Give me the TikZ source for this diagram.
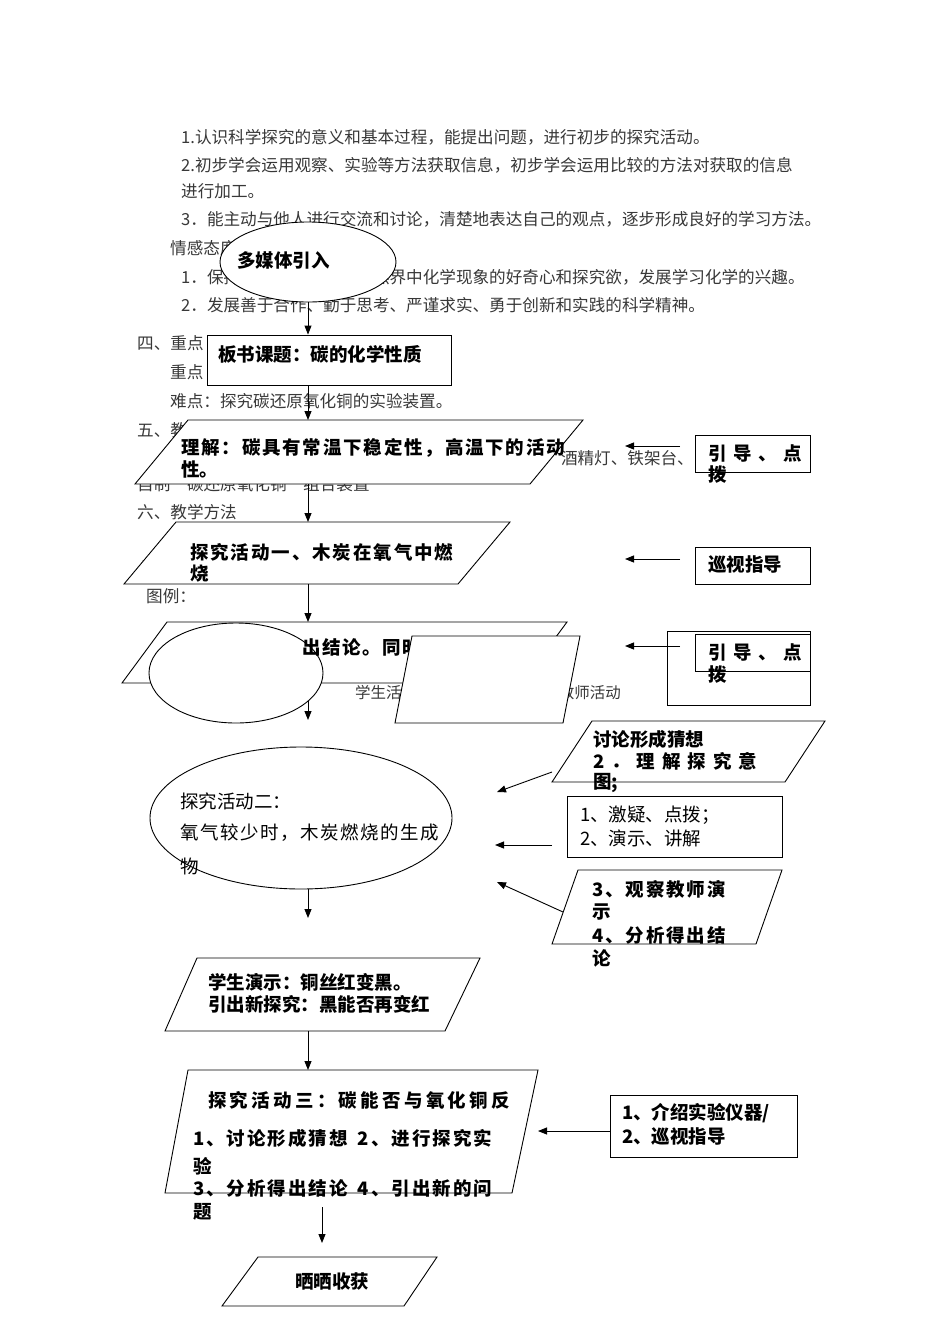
\documentclass[tikz,border=0pt]{standalone}
\usepackage{fontspec}
\setmainfont{Noto Sans CJK SC}
\usetikzlibrary{arrows.meta,shapes.geometric}
\makeatletter
\newcommand\lsp[2]{\@tfor\lsp@c:=#2\do{\lsp@c\hspace{#1}}\unskip}
\makeatother
\begin{document}
\begin{tikzpicture}[x=1pt,y=-1pt,
  bg/.style={anchor=west,inner sep=0pt,text=black!78,font=\fontsize{16.6}{20}\selectfont},
  tb/.style={anchor=west,inner sep=0pt,font=\fontsize{18.5}{22}\selectfont\bfseries},
  tr/.style={anchor=west,inner sep=0pt,font=\fontsize{18.5}{22}\selectfont},
  shp/.style={draw,line width=0.9pt,fill=white},
  rbox/.style={shp,rectangle,inner sep=0pt},
  arr/.style={draw,line width=0.9pt,-{Triangle[length=9pt,width=7pt]}}]
\useasboundingbox[fill=white] (0,0) rectangle (950,1344);

% ---------- background document text ----------
\node[bg] (b1) at (181,137) {1.认识科学探究的意义和基本过程，能提出问题，进行初步的探究活动。};
\node[bg] (b2) at (181,165) {2.初步学会运用观察、实验等方法获取信息，初步学会运用比较的方法对获取的信息};
\node[bg] (b3) at (181,191) {进行加工。};
\node[bg] (b4) at (181,219) {3．能主动与他人进行交流和讨论，清楚地表达自己的观点，逐步形成良好的学习方法。};
\node[bg] (b5) at (170,248) {情感态度};
\node[bg] (b6) at (181,277) {1．保持和增强对生活和自然界中化学现象的好奇心和探究欲，发展学习化学的兴趣。};
\node[bg] (b7) at (181,305) {2．发展善于合作、勤于思考、严谨求实、勇于创新和实践的科学精神。};
\node[bg] (b8) at (137,343) {四、重点};
\node[bg] (b9) at (170,372) {重点};
\node[bg] (b10) at (170,401) {难点：探究碳还原氧化铜的实验装置。};
\node[bg] (b11) at (137,430) {五、教学};
\node[bg,anchor=east] (b12) at (694,458) {酒精灯、铁架台、};
\node[bg] (b13) at (137,484) {自制“碳还原氧化铜”组合装置};
\node[bg] (b14) at (137,512) {六、教学方法};
\node[bg] (b16) at (137,568) {七、};
\node[bg] (b17) at (146,596) {图例：};
\node[bg,font=\fontsize{15.5}{18}\selectfont] (b18) at (355,693) {学生活动};
\node[bg,anchor=east,font=\fontsize{15.5}{18}\selectfont] (b19) at (621,693) {教师活动};

% ---------- coordinates of the parallelograms ----------
\coordinate (p1n) at (308,420); \coordinate (p1s) at (308,484);
\coordinate (p2n) at (308,522); \coordinate (p2s) at (308,584);
\coordinate (p3n) at (308,622); \coordinate (p3s) at (308,683);
\coordinate (p3e) at (308,720);
\coordinate (p5n) at (308,958); \coordinate (p5s) at (308,1031);
\coordinate (p6n) at (308,1070); \coordinate (p6s) at (322,1207);
\coordinate (p7n) at (322,1243);
\coordinate (e2e) at (308,918);

% ---------- multimedia ellipse ----------
\node[shp,ellipse,minimum width=176pt,minimum height=80pt,inner sep=0pt] (e1) at (308,262) {};
\node[tb] (e1t) at (237,260) {多媒体引入};

% ---------- title box ----------
\node[rbox,minimum width=244pt,minimum height=50pt] (box1) at (329,360) {};
\draw[arr] (e1.south) -- (e1.south |- box1.north);
\node[tb] (box1t) at (218,354) {板书课题：碳的化学性质};
\draw[arr] (e1.south |- box1.south) -- (p1n);

% ---------- understanding ----------
\draw[shp] (188,420) -- (583,420) -- (530,484) -- (135,484) -- cycle;
\node[tb] (p1a) at (181,448) {\lsp{1.8pt}{理解：碳具有常温下稳定性，高温下的活动}};
\node[tb] (p1b) at (181,469) {性。};
\draw[arr] (p1s) -- (p2n);

% ---------- activity one ----------
\draw[shp] (176,522) -- (510,522) -- (458,584) -- (124,584) -- cycle;
\node[tb] (p2a) at (190,552) {\lsp{1.9pt}{探究活动一、木炭在氧气中燃}};
\node[tb] (p2b) at (190,574) {烧};
\draw[arr] (p2s) -- (p3n);

% ---------- conclusion + legend ----------
\draw[shp] (167,622) -- (567,622) -- (522,683) -- (122,683) -- cycle;
\draw[arr] (p3s) -- (p3e);
\node[shp,ellipse,minimum width=174pt,minimum height=100pt,inner sep=0pt] (leg1) at (236,673) {};
\node[tb] (p3t) at (302,647) {\lsp{1.5pt}{出结论。同时}};
\draw[shp] (412,636) -- (580,636) -- (563,723) -- (395,723) -- cycle;

% ---------- right column, upper ----------
\node[rbox,minimum width=115pt,minimum height=37pt] (r1) at (752.5,453.5) {};
\node[tb] (r1a) at (708,453) {\lsp{6.5pt}{引导、点}};
\node[tb] (r1b) at (708,475) {拨};
\coordinate (a1s) at (680,446); \coordinate (a1e) at (625,446);
\draw[arr] (a1s) -- (a1e);

\node[rbox,minimum width=115pt,minimum height=37pt] (r2) at (752.5,565.5) {};
\node[tb] (r2t) at (708,565) {巡视指导};
\coordinate (a2s) at (680,559); \coordinate (a2e) at (625,559);
\draw[arr] (a2s) -- (a2e);

\node[rbox,minimum width=143pt,minimum height=74pt] (r3) at (738.5,668) {};
\node[rbox,minimum width=115pt,minimum height=37pt] (r4) at (752.5,652.5) {};
\node[tb] (r4a) at (708,652) {\lsp{6.5pt}{引导、点}};
\node[tb] (r4b) at (708,675) {拨};
\coordinate (a3s) at (680,646); \coordinate (a3e) at (625,646);
\draw[arr] (a3s) -- (a3e);

% ---------- activity two ----------
\node[shp,ellipse,minimum width=302pt,minimum height=142pt,inner sep=0pt] (e2) at (301,818) {};
\node[tr] (e2a) at (180,801) {探究活动二：};
\node[tr] (e2b) at (180,833) {\lsp{1.5pt}{氧气较少时，木炭燃烧的生成}};
\node[tr] (e2c) at (180,866) {物};
\draw[arr] (e1.south |- e2.south) -- (e2e);

\draw[shp] (592,721) -- (825,721) -- (785,782) -- (552,782) -- cycle;
\node[tb] (p8a) at (593,739) {讨论形成猜想};
\node[tb] (p8b) at (593,761) {\lsp{7pt}{2．理解探究意}};
\node[tb] (p8c) at (593,783) {图;};

\node[rbox,minimum width=215pt,minimum height=61pt] (r5) at (674.5,826.5) {};
\node[tr] (r5a) at (580,815) {1、激疑、点拨；};
\node[tr] (r5b) at (580,838) {2、演示、讲解};

\draw[shp] (578,870) -- (782,870) -- (756,944) -- (552,944) -- cycle;
\node[tb] (p9a) at (592,889) {\lsp{1.9pt}{3、观察教师演}};
\node[tb] (p9b) at (592,912) {示};
\node[tb] (p9c) at (592,935) {\lsp{1.9pt}{4、分析得出结}};
\node[tb] (p9d) at (592,958) {论};

\coordinate (a4s) at (552,772); \coordinate (a4e) at (497,792);
\coordinate (a5s) at (552,845); \coordinate (a5e) at (495,845);
\coordinate (a6s) at (563,912); \coordinate (a6e) at (497,882);
\draw[arr] (a4s) -- (a4e);
\draw[arr] (a5s) -- (a5e);
\draw[arr] (a6s) -- (a6e);

% ---------- student demo ----------
\draw[shp] (197,958) -- (480,958) -- (445,1031) -- (165,1031) -- cycle;
\node[tb] (p5a) at (208,982) {学生演示：铜丝红变黑。};
\node[tb] (p5b) at (208,1004) {引出新探究：黑能否再变红};
\draw[arr] (p5s) -- (p6n);

% ---------- activity three ----------
\draw[shp] (188,1070) -- (538,1070) -- (512,1193) -- (165,1193) -- cycle;
\node[tb] (p6a) at (208,1100) {\lsp{3.3pt}{探究活动三：碳能否与氧化铜反}};
\node[tb] (p6b) at (193,1138) {\lsp{2pt}{1、讨论形成猜想}\hspace{10pt}\lsp{2pt}{2、进行探究实}};
\node[tb] (p6c) at (193,1166) {验};
\node[tb] (p6d) at (193,1188) {\lsp{2pt}{3、分析得出结论}\hspace{10pt}\lsp{2pt}{4、引出新的问}};
\node[tb] (p6e) at (193,1212) {题};
\draw[arr] (p6s) -- (p7n);

\node[rbox,minimum width=187pt,minimum height=62pt] (r6) at (703.5,1126) {};
\node[tb] (r6a) at (622,1113) {1、介绍实验仪器/};
\node[tb] (r6b) at (622,1137) {2、巡视指导};
\coordinate (a7e) at (538,1131);
\draw[arr] (r6.west |- a7e) -- (a7e);

% ---------- harvest ----------
\draw[shp] (258,1257) -- (437,1257) -- (404,1306) -- (222,1306) -- cycle;
\node[tb] (p7t) at (295,1281) {晒晒收获};
\end{tikzpicture}
\end{document}
